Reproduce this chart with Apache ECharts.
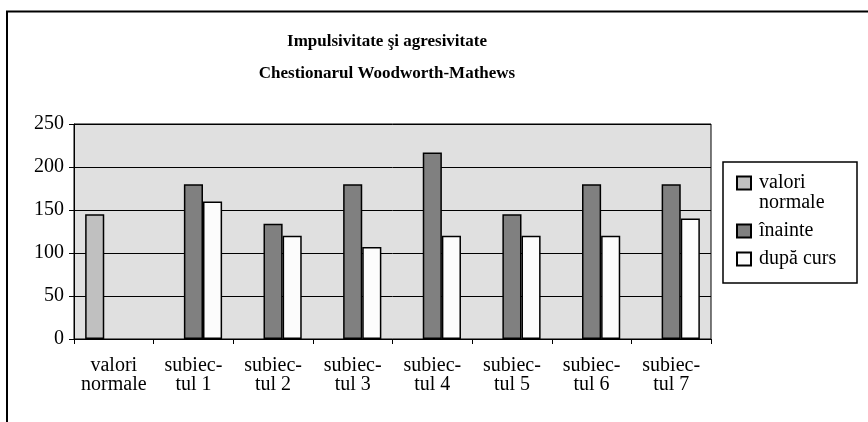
<!DOCTYPE html>
<html>
<head>
<meta charset="utf-8">
<script src="https://cdn.jsdelivr.net/npm/echarts@6/dist/echarts.min.js"></script>
<style>
html, body { margin: 0; padding: 0; background: #fff; }
#main { width: 868px; height: 422px; }
</style>
</head>
<body>
<div id="main"></div>
<script>
// categorii pe axa x
var categorii = ['valori\nnormale', 'subiec-\ntul 1', 'subiec-\ntul 2', 'subiec-\ntul 3',
	'subiec-\ntul 4', 'subiec-\ntul 5', 'subiec-\ntul 6', 'subiec-\ntul 7'];

// valorile seriilor
var valori_normale = [145, null, null, null, null, null, null, null];
var inainte = [null, 180, 134, 180, 217, 145, 180, 180];
var dupa_curs = [null, 160, 120, 107, 120, 120, 120, 140];

// etichete axa y
var y_ticks = [0, 50, 100, 150, 200, 250];

var font = "'Liberation Serif', 'Times New Roman', serif";

var myChart = echarts.init(document.getElementById('main'));

function bar(name, data, color) {
	return {
		name: name,
		type: 'bar',
		data: data,
		barGap: '0%',
		barCategoryGap: '28%',
		itemStyle: { color: color, borderColor: '#000', borderWidth: 1.5 }
	};
}

var option = {
	animation: false,
	backgroundColor: '#fff',
	title: {
		text: 'Impulsivitate şi agresivitate\nChestionarul Woodworth-Mathews',
		left: 387,
		top: 26,
		padding: 0,
		textAlign: 'center',
		textStyle: { fontFamily: font, fontSize: 17, fontWeight: 'bold', color: '#000', lineHeight: 32 }
	},
	legend: {
		orient: 'vertical',
		left: 736,
		top: 153,
		padding: 0,
		itemGap: 8,
		itemWidth: 14,
		itemHeight: 13,
		icon: 'rect',
		// numele pe doua randuri: primul rand aliniat cu patratelul
		formatter: function (name) {
			return name.indexOf('\n') >= 0 ? '\n' + name : name;
		},
		textStyle: { fontFamily: font, fontSize: 20, color: '#000', lineHeight: 20, padding: [0, 0, 0, 3] },
		data: ['valori\nnormale', 'înainte', 'după curs']
	},
	graphic: [
		{
			type: 'polyline',
			shape: { points: [[7, 422], [7, 11.5], [868, 11.5]] },
			style: { stroke: '#000', lineWidth: 2, fill: null }
		},
		{
			type: 'rect',
			shape: { x: 723, y: 162, width: 134, height: 121 },
			style: { stroke: '#000', lineWidth: 1.5, fill: null }
		}
	],
	grid: {
		left: 74,
		top: 124,
		right: 157,
		bottom: 83,
		show: true,
		backgroundColor: '#e0e0e0',
		borderColor: '#000',
		borderWidth: 1
	},
	xAxis: {
		type: 'category',
		data: categorii,
		axisLine: { lineStyle: { color: '#000', width: 1 } },
		axisTick: { show: true, length: 5, lineStyle: { color: '#000' } },
		axisLabel: { fontFamily: font, fontSize: 20, color: '#000', lineHeight: 19, margin: 17, interval: 0 }
	},
	yAxis: {
		type: 'value',
		min: y_ticks[0],
		max: y_ticks[y_ticks.length - 1],
		interval: 50,
		axisLine: { show: true, lineStyle: { color: '#000', width: 1 } },
		axisTick: { show: true, length: 5, lineStyle: { color: '#000' } },
		axisLabel: { fontFamily: font, fontSize: 20, color: '#000', margin: 10 },
		splitLine: { show: true, lineStyle: { color: '#000', width: 1 } }
	},
	series: [
		bar('valori\nnormale', valori_normale, '#c0c0c0'),
		bar('înainte', inainte, '#808080'),
		bar('după curs', dupa_curs, '#fcfcfc')
	]
};

myChart.setOption(option);
</script>
</body>
</html>
